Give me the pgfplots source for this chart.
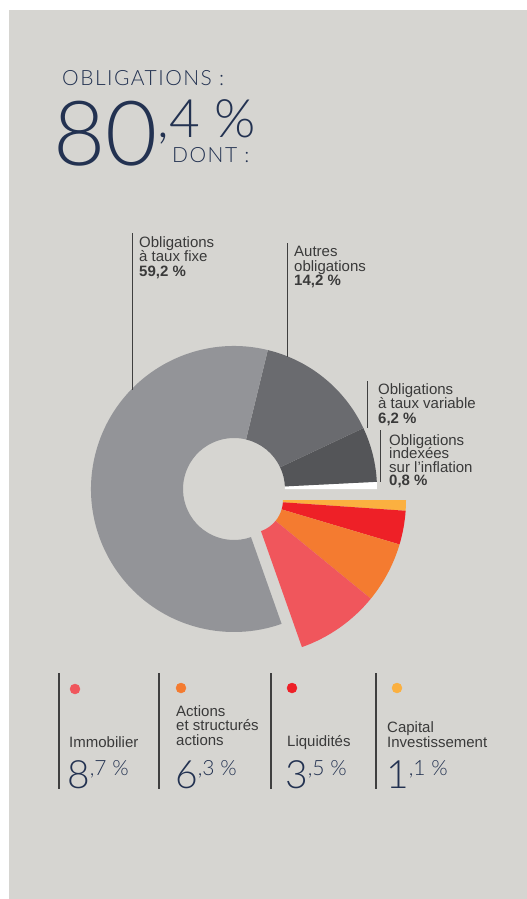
\documentclass[border=0pt]{standalone}
\usepackage{pgfplots}
\pgfplotsset{compat=1.18}
\usepackage{pgfplotstable}
\usepackage{fontspec}
\setmainfont{Liberation Sans}
\newfontfamily\thin{Lato Light}
\newfontfamily\thinwide{Lato Light}[LetterSpace=7]

\definecolor{panel}{HTML}{D6D5D1}
\definecolor{navy}{HTML}{233251}
\definecolor{txt}{HTML}{3A3A3A}
\definecolor{rule}{HTML}{3F3F3F}
\definecolor{cLight}{HTML}{939498}
\definecolor{cMid}{HTML}{6A6B6F}
\definecolor{cDark}{HTML}{545558}
\definecolor{cImmo}{HTML}{F0565C}
\definecolor{cAct}{HTML}{F47B30}
\definecolor{cLiq}{HTML}{EE2027}
\definecolor{cCap}{HTML}{FBB040}

% ring 1 = exploded part, drawn clockwise from 0 deg; ring 0 = bonds, counter-clockwise from 0 deg
\pgfplotstableread{
name value color ring
Capital 1.1 cCap 1
Liquidites 3.5 cLiq 1
Actions 6.3 cAct 1
Immobilier 8.7 cImmo 1
Inflation 0.8 white 0
Variable 6.2 cDark 0
Autres 14.2 cMid 0
Fixe 59.2 cLight 0
}\slices

\def\slicefills{}
\gdef\accA{0}\gdef\accB{0}
\pgfplotstablegetrowsof{\slices}
\pgfmathtruncatemacro\lastrow{\pgfplotsretval-1}
\foreach \i in {0,...,\lastrow}{%
  \pgfplotstablegetelem{\i}{value}\of\slices \let\slval\pgfplotsretval
  \pgfplotstablegetelem{\i}{color}\of\slices \let\slcol\pgfplotsretval
  \pgfplotstablegetelem{\i}{ring}\of\slices \let\slring\pgfplotsretval
  \ifnum\slring=1
    \pgfmathsetmacro\angA{\accB}\pgfmathsetmacro\angB{\accB-3.6*\slval}\xdef\accB{\angB}%
    \def\cx{250}\def\cy{500}\def\ri{33}\def\ro{156}%
  \else
    \pgfmathsetmacro\angA{\accA}\pgfmathsetmacro\angB{\accA+3.6*\slval}\xdef\accA{\angB}%
    \def\cx{234}\def\cy{489}\def\ri{51}\def\ro{143}%
  \fi
  \xdef\slicefills{\unexpanded\expandafter{\slicefills}%
    \noexpand\fill[\slcol] (axis cs:\cx,\cy) ++(\angA:\ro pt) arc[start angle=\angA,end angle=\angB,radius=\ro pt]
      -- ([shift={(\angB:\ri pt)}]axis cs:\cx,\cy) arc[start angle=\angB,end angle=\angA,radius=\ri pt] -- cycle;}%
}

\tikzset{
  lab/.style={anchor=base west, inner sep=0pt, text=txt, font=\fontsize{15}{15}\selectfont},
  blab/.style={lab, font=\fontsize{15}{15}\selectfont\bfseries},
  big/.style={anchor=base west, inner sep=0pt, text=navy, font=\thin},
}

\begin{document}
\begin{tikzpicture}
\begin{axis}[x=1pt, y=1pt, y dir=reverse,
    xmin=0, xmax=527, ymin=0, ymax=899,
    hide axis, clip=false]
\fill[white] (axis cs:0,0) rectangle (axis cs:527,899);
\fill[panel] (axis cs:9,10) rectangle (axis cs:527,899);

% headline
\node[big, font=\thinwide\fontsize{21}{21}\selectfont] at (axis cs:62,85) {OBLIGATIONS :};
\node[big] at (axis cs:53,165) {\fontsize{90}{90}\selectfont 80\raisebox{27.5pt}{\fontsize{53}{53}\selectfont ,4 \%}};
\node[big, font=\thinwide\fontsize{21}{21}\selectfont] at (axis cs:172,162) {DONT :};

% donut
\slicefills

% leader lines and labels
\draw[rule, line width=1pt] (axis cs:132,233) -- (axis cs:132,390);
\node[lab] at (axis cs:139,247) {Obligations};
\node[lab] at (axis cs:139,261.5) {à taux fixe};
\node[blab] at (axis cs:139,276.5) {59,2 \%};

\draw[rule, line width=1pt] (axis cs:287,243) -- (axis cs:287,357);
\node[lab] at (axis cs:294,256.5) {Autres};
\node[lab] at (axis cs:294,271) {obligations};
\node[blab] at (axis cs:294,285.5) {14,2 \%};

\draw[rule, line width=1pt] (axis cs:367,381) -- (axis cs:367,428);
\node[lab] at (axis cs:378,394) {Obligations};
\node[lab] at (axis cs:378,408) {à taux variable};
\node[blab] at (axis cs:378,423) {6,2 \%};

\draw[rule, line width=1pt] (axis cs:380,430) -- (axis cs:380,482);
\node[lab] at (axis cs:389,445) {Obligations};
\node[lab] at (axis cs:389,458.5) {indexées};
\node[lab] at (axis cs:389,472) {sur l’inflation};
\node[blab] at (axis cs:389,485.5) {0,8 \%};

% bottom key
\foreach \xx in {59,159,271,376}{
  \edef\tmp{\noexpand\draw[rule, line width=1.4pt] (axis cs:\xx,673) -- (axis cs:\xx,789);}\tmp
}
\addplot[only marks, color=cImmo, mark=*, mark size=5pt] coordinates {(75,689)};
\addplot[only marks, color=cAct, mark=*, mark size=5pt] coordinates {(181,688)};
\addplot[only marks, color=cLiq, mark=*, mark size=5pt] coordinates {(292,688)};
\addplot[only marks, color=cCap, mark=*, mark size=5pt] coordinates {(397,688)};

\node[lab] at (axis cs:69,747) {Immobilier};
\node[lab] at (axis cs:176,716) {Actions};
\node[lab] at (axis cs:176,730.5) {et structurés};
\node[lab] at (axis cs:176,745) {actions};
\node[lab] at (axis cs:287,746) {Liquidités};
\node[lab] at (axis cs:387,732) {Capital};
\node[lab] at (axis cs:387,747) {Investissement};

\node[big] at (axis cs:67,788) {\fontsize{39}{39}\selectfont 8\raisebox{13pt}{\fontsize{21}{21}\selectfont ,7 \%}};
\node[big] at (axis cs:175,788) {\fontsize{39}{39}\selectfont 6\raisebox{13pt}{\fontsize{21}{21}\selectfont ,3 \%}};
\node[big] at (axis cs:285,788) {\fontsize{39}{39}\selectfont 3\raisebox{13pt}{\fontsize{21}{21}\selectfont ,5 \%}};
\node[big] at (axis cs:386,788) {\fontsize{39}{39}\selectfont 1\raisebox{13pt}{\fontsize{21}{21}\selectfont ,1 \%}};
\end{axis}
\end{tikzpicture}
\end{document}
